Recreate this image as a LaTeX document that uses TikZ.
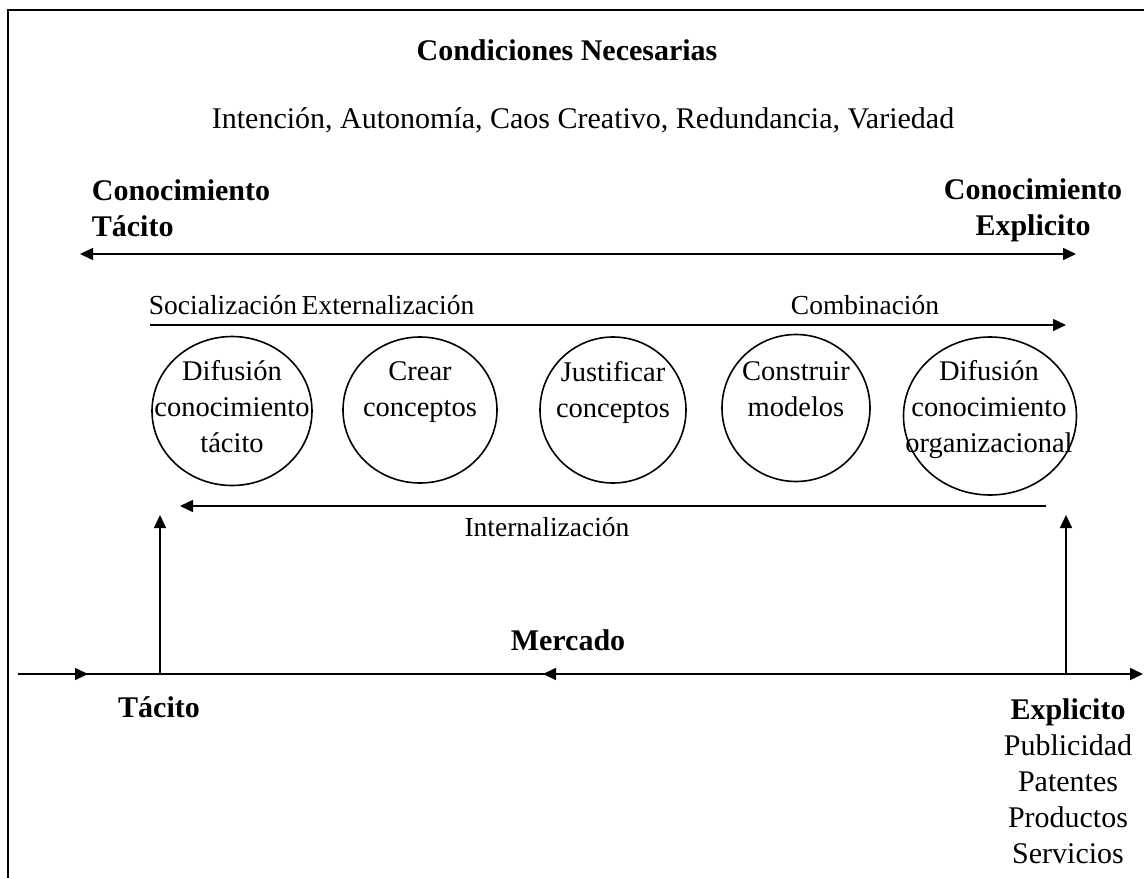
\documentclass[tikz,border=0pt]{standalone}
\usepackage{fontspec}
\setmainfont{Liberation Serif}
\usetikzlibrary{arrows.meta,shapes.geometric}
\begin{document}
\begin{tikzpicture}[x=1pt,y=-1pt,
  every node/.style={inner sep=0pt, font=\fontsize{30}{36}\selectfont},
  bold/.style={font=\fontsize{30}{36}\selectfont\bfseries},
  small/.style={font=\fontsize{27.5}{36}\selectfont},
  intxt/.style={align=center,font=\fontsize{28.5}{36}\selectfont},
  ln/.style={line width=1.6pt},
  arr/.style={ln,-{Triangle[length=13pt,width=12pt]}},
  darr/.style={ln,{Triangle[length=13pt,width=12pt]}-{Triangle[length=13pt,width=12pt]}},
  bub/.style={draw,ellipse,line width=1.6pt}]
\useasboundingbox (0,0) rectangle (1144,878);
% frame
\draw[line width=2.5pt] (8,878) -- (8,10) -- (1144,10);
% headings
\node[bold] (cond) at (567,50) {Condiciones Necesarias};
\node (vars) at (583,120) {Intención, Autonomía, Caos Creativo, Redundancia, Variedad};
\node[bold,align=left] (ct) at (181,208) {Conocimiento\\Tácito};
\node[bold,align=center] (ce) at (1033,210) {Conocimiento\\Explicito};
\coordinate (dl) at (80,254);
\coordinate (dr) at (1076,254);
\draw[darr] (dl) -- (dr);
% process labels
\node[small] (soc) at (223,305) {Socialización};
\node[small] (ext) at (388,305) {Externalización};
\node[small] (comb) at (865,305) {Combinación};
\coordinate (pl) at (150,325);
\coordinate (pr) at (1066,325);
\draw[arr] (pl) -- (pr);
% bubbles
\node[bub,minimum width=160pt,minimum height=149pt] (e1) at (232,411) {};
\node[bub,minimum width=154pt,minimum height=146pt] (e2) at (420,410) {};
\node[bub,minimum width=146pt,minimum height=146pt] (e3) at (613,410) {};
\node[bub,minimum width=148pt,minimum height=147pt] (e4) at (796,408) {};
\node[bub,minimum width=173pt,minimum height=158pt] (e5) at (990,416) {};
\node[intxt] (t1) at (232,407) {Difusión\\conocimiento\\tácito};
\node[intxt] (t2) at (420,392) {Crear\\conceptos};
\node[intxt] (t3) at (613,392) {Justificar\\conceptos};
\node[intxt] (t4) at (796,389) {Construir\\modelos};
\node[intxt] (t5) at (989,410) {Difusión\\conocimiento\\organizacional};
% internalizacion
\coordinate (ir) at (1046,506);
\coordinate (il) at (180,506);
\draw[arr] (ir) -- (il);
\node[small] (int) at (547,527) {Internalización};
% market line
\node[bold] (merc) at (568,640) {Mercado};
\coordinate (b0) at (18,674);
\coordinate (b1) at (88,674);
\coordinate (b2) at (543,674);
\coordinate (bt) at (160,674);
\coordinate (be) at (1066,674);
\coordinate (bend) at (1143,674);
\draw[arr] (b0) -- (bend);
\draw[arr] (b0) -- (b1);
\draw[arr] (be) -- (b2);
\coordinate (vt) at (160,515);
\coordinate (ve) at (1066,515);
\draw[arr] (bt) -- (vt);
\draw[arr] (be) -- (ve);
\node[bold] (tac) at (159,707) {Tácito};
\node[align=center] (exp) at (1068,781) {\textbf{Explicito}\\Publicidad\\Patentes\\Productos\\Servicios};
\end{tikzpicture}
\end{document}
